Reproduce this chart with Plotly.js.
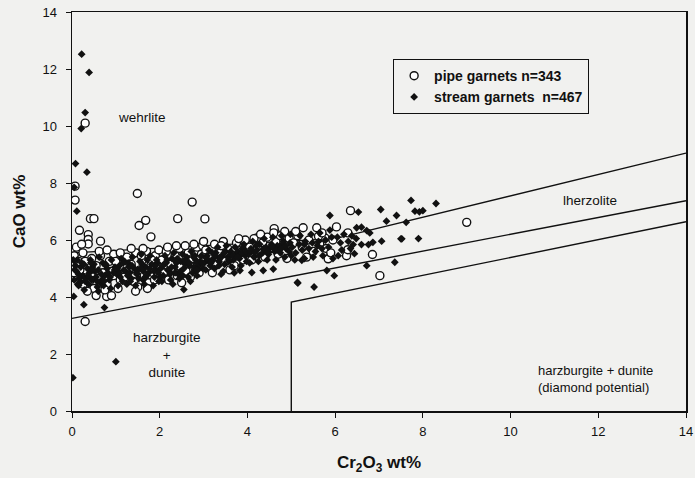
<!DOCTYPE html>
<html>
<head>
<meta charset="utf-8">
<script src="https://cdn.plot.ly/plotly-3.0.1.min.js"></script>
<style>html,body{margin:0;padding:0;background:#f1f1ef;}#chart{width:695px;height:478px;}</style>
</head>
<body>
<div id="chart"></div>
<script>
// ---- data ----
var pipeX = [
0.07,0.07,0.30,1.49,2.74,0.42,0.50,1.53,1.68,2.41,
3.03,1.80,0.65,0.17,0.37,0.37,0.37,4.63,4.61,4.21,
0.30,0.79,6.35,6.03,6.85,7.02,9.00,5.27,5.58,5.77,
5.62,6.26,6.29,5.84,6.29,0.10,0.05,0.15,0.25,0.22,
0.12,0.30,0.45,0.55,0.65,0.70,0.85,0.95,0.20,0.40,
0.60,0.80,0.95,1.05,0.50,0.35,0.25,0.75,0.90,1.10,
0.18,0.62,0.80,1.00,0.05,0.55,0.30,0.88,0.48,1.15,
1.25,1.35,1.45,1.55,1.60,1.70,1.80,1.90,1.20,1.40,
1.50,1.65,1.75,1.85,1.95,1.30,1.10,1.62,1.98,1.45,
1.72,1.88,1.35,1.58,1.82,
2.05,2.15,2.25,2.35,2.45,2.55,2.65,2.75,2.85,2.95,
2.10,2.20,2.30,2.40,2.50,2.60,2.70,2.80,2.90,2.18,
2.38,2.58,2.78,2.98,2.48,
3.05,3.15,3.25,3.35,3.45,3.55,3.65,3.75,3.85,3.95,
3.10,3.30,3.50,3.70,3.90,3.20,3.60,3.40,3.80,3.00,
4.05,4.15,4.25,4.35,4.45,4.55,4.65,4.75,4.85,4.95,
4.10,4.40,4.70,4.90,4.30,4.60,4.85,
5.05,5.15,5.25,5.40,5.50,5.65,5.80,5.95,5.35,5.70,
5.10,5.90
];
var pipeY = [
7.89,7.40,10.10,7.63,7.33,6.75,6.75,6.51,6.69,6.75,
6.74,6.11,5.96,6.34,6.19,6.02,5.86,6.28,6.40,6.07,
3.14,4.02,7.03,6.46,5.49,4.75,6.62,6.43,6.43,6.07,
6.13,5.45,5.66,5.34,6.25,5.75,5.45,5.25,5.55,5.85,
5.10,4.95,5.35,5.10,5.45,4.85,5.25,5.50,4.70,4.55,
4.65,4.45,4.75,4.30,4.30,4.20,4.45,4.25,4.05,4.60,
4.95,5.60,5.65,5.25,4.85,4.05,5.25,4.90,4.85,5.05,
5.40,5.15,5.55,4.95,5.30,5.60,5.10,5.45,4.70,4.55,
4.35,4.75,4.50,4.85,5.00,4.95,5.55,5.70,5.65,4.20,
4.30,4.60,5.70,5.45,5.30,
5.30,5.60,5.15,5.45,5.70,5.20,5.55,5.35,5.75,5.50,
4.85,4.60,4.95,4.75,4.50,4.90,4.70,5.05,4.85,5.75,
5.80,5.80,5.85,5.80,5.05,
5.65,5.40,5.85,5.60,5.95,5.70,5.45,5.90,5.65,6.00,
5.05,5.15,5.25,5.10,5.30,4.85,4.95,5.80,6.05,5.95,
5.75,6.05,5.55,5.90,6.10,5.70,5.95,6.15,5.85,6.05,
5.30,5.40,5.50,5.35,6.20,6.25,6.30,
5.90,6.15,5.75,6.00,5.60,5.85,5.70,6.00,5.40,6.25,
6.30,5.55
];
var streamX = [
0.22,0.39,0.30,0.21,0.08,0.34,0.11,0.27,0.74,1.00,
0.02,2.55,3.83,4.10,4.36,4.59,5.14,5.24,5.88,6.53,
7.04,7.40,7.73,7.17,7.50,7.06,6.86,6.72,6.79,6.60,
6.49,5.81,5.98,5.52,5.15,6.72,7.36,6.44,6.07,6.41,
6.60,6.76,8.30,7.82,7.92,8.00,7.62,7.52,7.90,0.05,
0.04,
0.05,0.10,0.15,0.20,0.25,0.30,0.35,0.40,0.45,0.50,
0.55,0.60,0.65,0.70,0.75,0.80,0.85,0.90,0.95,0.12,
0.28,0.42,0.58,0.72,0.88,0.98,0.33,0.18,0.62,0.08,
1.02,1.08,1.15,1.22,1.28,1.35,1.42,1.48,1.55,1.62,
1.68,1.75,1.82,1.88,1.95,1.05,1.25,1.45,1.65,1.85,
1.12,1.38,1.58,1.78,1.92,1.18,1.52,1.72,1.32,1.98,
2.02,2.08,2.15,2.22,2.28,2.35,2.42,2.48,2.55,2.62,
2.68,2.75,2.82,2.88,2.95,2.05,2.25,2.45,2.65,2.85,
2.12,2.32,2.52,2.72,2.92,2.18,2.38,2.58,2.78,2.98,
2.30,2.70,
3.02,3.08,3.15,3.22,3.28,3.35,3.42,3.48,3.55,3.62,
3.68,3.75,3.82,3.88,3.95,3.05,3.25,3.45,3.65,3.85,
3.12,3.32,3.52,3.72,3.92,3.18,3.38,3.58,3.78,3.98,
3.40,3.70,
4.02,4.08,4.15,4.22,4.28,4.35,4.42,4.48,4.55,4.62,
4.68,4.75,4.82,4.88,4.95,4.05,4.25,4.45,4.65,4.85,
4.12,4.38,4.58,4.78,4.98,
5.02,5.10,5.18,5.25,5.32,5.40,5.48,5.55,5.62,5.70,
5.78,5.85,5.92,5.08,5.30,5.50,5.72,5.95,5.20,5.45,
5.65,5.88,
6.05,6.12,6.20,6.30,6.38,6.15,6.35,6.48,
0.15,0.38,0.52,0.68,0.82,1.10,1.30,1.50,1.70,1.90,
2.10,2.35,2.60,2.85,3.10,3.35,3.60,3.85,4.10,4.40,
4.70,5.00,5.30,5.60,0.22,0.47,0.77,1.20,1.60,2.00,
2.40,2.80,3.20,3.50,3.80,4.20,4.50,4.80,0.03,0.60,
0.07,0.17,0.27,0.37,0.47,0.57,0.67,0.77,0.87,0.97,
1.07,1.17,1.27,1.37,1.47,1.57,1.67,1.77,1.87,1.97,
2.07,2.17,2.27,2.37,2.47,2.57,2.67,2.77,2.87,2.97,
3.07,3.17,3.27,3.37,3.47,3.57,3.67,3.77,3.87,3.97,
4.07,4.17,4.27,4.37,4.47,4.57,4.67,4.77,4.87,4.97,
0.13,0.43,0.73,1.03,1.33,1.63,1.93,2.23,2.53,2.83
];
var streamY = [
12.52,11.88,10.47,9.91,8.68,8.38,7.01,3.73,3.63,1.73,
1.17,4.26,4.93,4.86,4.93,4.98,4.51,5.29,6.86,6.98,
7.07,6.86,7.39,6.66,6.04,5.96,5.92,6.33,6.25,6.45,
6.43,4.93,4.75,4.35,4.49,5.10,5.22,5.52,5.45,5.84,
5.84,5.84,7.28,7.01,6.99,7.03,6.62,6.04,6.05,7.85,
4.02,
4.60,4.90,4.40,5.05,4.75,4.55,5.00,4.85,4.60,5.15,
4.70,4.95,4.50,5.20,4.75,5.00,4.60,5.30,4.85,5.30,
4.25,5.30,4.35,4.40,4.30,5.05,4.65,4.50,5.40,5.10,
4.80,5.10,4.55,4.90,5.20,4.65,5.00,4.80,5.25,4.60,
5.05,4.85,5.15,4.70,5.20,4.40,4.45,4.40,4.45,4.40,
5.35,5.40,5.50,5.45,4.95,4.95,4.65,5.30,4.85,4.55,
5.00,4.75,5.20,4.90,5.35,5.05,4.80,5.25,5.00,5.40,
5.10,4.85,5.30,5.10,5.45,4.55,4.60,4.65,4.70,4.75,
5.45,5.55,5.50,5.60,5.25,4.95,5.20,5.15,5.05,5.00,
4.45,4.55,
5.20,5.45,5.10,5.35,5.55,5.25,5.45,5.15,5.40,5.60,
5.30,5.50,5.35,5.70,5.45,4.95,5.00,4.90,5.05,5.10,
5.65,5.75,5.80,5.75,5.85,5.25,5.40,5.25,5.60,5.25,
4.80,4.85,
5.50,5.70,5.40,5.65,5.85,5.55,5.75,5.50,5.85,5.60,
5.80,5.55,5.95,5.70,5.60,5.20,5.25,5.30,5.30,5.40,
5.95,6.05,6.10,6.15,6.20,
5.75,5.55,5.85,5.65,5.95,5.70,5.90,5.60,5.95,5.70,
6.00,5.75,6.10,5.30,5.35,5.40,5.45,5.35,6.15,6.20,
6.25,6.35,
6.10,5.90,6.20,5.95,6.15,5.65,5.70,6.05,
4.80,4.45,4.90,4.60,4.85,4.70,5.05,4.95,4.75,5.10,
5.15,4.85,5.25,5.20,5.30,5.10,5.45,5.50,5.60,5.65,
5.75,5.45,5.85,5.80,5.20,5.05,5.15,5.25,5.15,4.70,
5.35,5.45,5.55,5.60,5.40,5.80,5.70,5.85,5.30,4.20,
4.95,4.65,5.15,4.75,4.95,4.55,4.80,5.10,4.70,4.95,
4.85,5.20,4.75,5.10,4.85,5.00,4.70,5.00,4.90,4.85,
5.10,5.30,5.05,5.25,4.90,5.30,5.20,5.40,4.95,5.20,
5.35,5.20,5.45,5.35,5.55,5.30,5.45,5.40,5.55,5.60,
5.60,5.55,5.45,5.70,5.60,5.75,5.65,5.70,5.80,5.90,
4.45,5.20,4.55,5.00,4.55,4.90,5.30,4.80,4.75,4.95
];
// field boundaries
var wehrBoundX = [0, 6, 14];
var wehrBoundY = [5.55, 6.05, 9.05];
var harzBoundX = [0, 14];
var harzBoundY = [3.25, 7.38];
var diamBoundX = [5, 5, 14];
var diamBoundY = [0, 3.82, 6.64];

var F = 'Liberation Sans, Arial, Helvetica, sans-serif';
var lineStyle = {color: '#111', width: 1.4};

var traces = [
  {x: wehrBoundX, y: wehrBoundY, mode: 'lines', line: lineStyle, showlegend: false, hoverinfo: 'skip'},
  {x: harzBoundX, y: harzBoundY, mode: 'lines', line: lineStyle, showlegend: false, hoverinfo: 'skip'},
  {x: diamBoundX, y: diamBoundY, mode: 'lines', line: lineStyle, showlegend: false, hoverinfo: 'skip'},
  {x: pipeX, y: pipeY, mode: 'markers', name: 'pipe garnets n=343',
   marker: {symbol: 'circle', size: 8, color: '#ffffff', line: {color: '#111', width: 1.4}}},
  {x: streamX, y: streamY, mode: 'markers', name: 'stream garnets  n=467',
   marker: {symbol: 'diamond', size: 6, color: '#111'}}
];

var axisCommon = {
  range: [0, 14], dtick: 2, showgrid: false, zeroline: false,
  showline: true, linecolor: '#111', linewidth: 1.5, mirror: true,
  ticks: 'outside', ticklen: 5, tickcolor: '#111', tickwidth: 1,
  tickfont: {family: F, size: 13, color: '#111'}
};

var layout = {
  width: 695, height: 478,
  margin: {l: 72, r: 9, t: 12, b: 67},
  paper_bgcolor: '#f1f1ef', plot_bgcolor: '#f1f1ef',
  font: {family: F, color: '#111'},
  xaxis: Object.assign({}, axisCommon, {
    title: {text: 'Cr<sub>2</sub>O<sub>3</sub> wt%', font: {family: F, size: 17, color: '#111', weight: 'bold'}, standoff: 18},
    ticklabelstandoff: 3
  }),
  yaxis: Object.assign({}, axisCommon, {
    title: {text: 'CaO wt%', font: {family: F, size: 17, color: '#111', weight: 'bold'}, standoff: 12},
    ticklabelstandoff: 6
  }),
  legend: {
    x: 0.523, y: 0.882, xanchor: 'left', yanchor: 'top',
    bgcolor: 'rgba(0,0,0,0)', bordercolor: '#111', borderwidth: 1,
    font: {family: F, size: 14, color: '#111', weight: 'bold'},
    traceorder: 'normal', itemwidth: 30, tracegroupgap: 0
  },
  showlegend: true,
  annotations: [
    {x: 1.6, y: 10.3, text: 'wehrlite', showarrow: false, font: {family: F, size: 13.5}},
    {x: 11.81, y: 7.4, text: 'lherzolite', showarrow: false, font: {family: F, size: 13.5}},
    {x: 2.16, y: 1.97, text: 'harzburgite<br>+<br>dunite', showarrow: false, font: {family: F, size: 13.5}},
    {x: 11.93, y: 1.13, text: 'harzburgite + dunite<br>(diamond potential)', showarrow: false, align: 'left', font: {family: F, size: 13}}
  ]
};

Plotly.newPlot('chart', traces, layout, {displayModeBar: false, staticPlot: true});
</script>
</body>
</html>
